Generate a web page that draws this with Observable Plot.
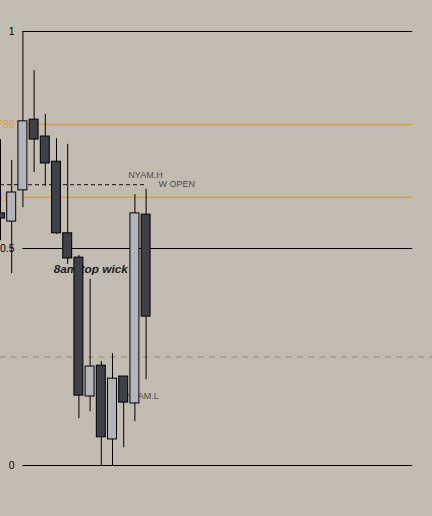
<!DOCTYPE html>
<html>
<head>
<meta charset="utf-8">
<script src="https://cdn.jsdelivr.net/npm/d3@7"></script>
<script src="https://cdn.jsdelivr.net/npm/@observablehq/plot@0.6"></script>
<style>
  html, body { margin: 0; padding: 0; background: #c3bcb2; }
  #chart svg { display: block; }
</style>
</head>
<body>
<div id="chart"></div>
<script>
// Candles (normalised to the fib range: low = 0, high = 1)
const candleIndex = [0, 1, 2, 3, 4, 5, 6, 7, 8, 9, 10, 11, 12, 13];
const opens  = [0.581, 0.562, 0.634, 0.797, 0.758, 0.700, 0.535, 0.479, 0.159, 0.230, 0.060, 0.205, 0.143, 0.578];
const highs  = [0.751, 0.703, 1.000, 0.910, 0.809, 0.753, 0.740, 0.484, 0.429, 0.240, 0.258, 0.205, 0.624, 0.636];
const lows   = [0.518, 0.442, 0.594, 0.675, 0.643, 0.532, 0.463, 0.108, 0.124, 0.000, 0.000, 0.041, 0.101, 0.198];
const closes = [0.569, 0.629, 0.793, 0.751, 0.696, 0.535, 0.477, 0.161, 0.228, 0.065, 0.200, 0.145, 0.581, 0.343];

// Fibonacci levels
const fibLevels = [1, 0.786, 0.618, 0.5, 0];
const fibLabels = ["1", "0.786", "0.618", "0.5", "0"];
const fibColors = ["#000000", "#dea03c", "#dea03c", "#000000", "#000000"];

// Other levels and annotations
const quarterLevel = 0.25;
const nyamHigh = 0.647;
const nyamLow = 0.159;
const wickNoteLevel = 0.452;
const annotations = ["NYAM.H", "W OPEN", "NYAM.L", "8am top wick"];

const candles = candleIndex.map((i, k) => ({
  i, open: opens[k], high: highs[k], low: lows[k], close: closes[k]
}));
const fibs = fibLevels.map((v, k) => ({ v, label: fibLabels[k], color: fibColors[k] }));

const W = 432, H = 516;
const pxPerCandle = 11.2;
const fibStart = 2, fibEnd = 36.8;
const font = "Liberation Sans, Arial, sans-serif";

const plot = Plot.plot({
  width: W,
  height: H,
  marginLeft: 0,
  marginRight: 0,
  marginTop: 31,
  marginBottom: 51,
  x: { domain: [0, W / pxPerCandle], axis: null },
  y: { domain: [0, 1], axis: null },
  style: { background: "#c3bcb2", fontFamily: font },
  marks: [
    // quarter level, grey dashed across the whole pane
    Plot.ruleY([quarterLevel], { stroke: "#8e8983", strokeDasharray: "6,5", strokeWidth: 1 }),
    // fib lines
    Plot.ruleY(fibs, { y: "v", x1: fibStart, x2: fibEnd, stroke: "color", strokeWidth: d => d.color === "#000000" ? 1.1 : 1.5 }),
    // fib labels on the left (partly behind the first candles, as in the source)
    Plot.text(fibs, { y: "v", x: 0, text: "label", fill: "color", textAnchor: "end", dx: 14, fontSize: 10.5 }),
    // NYAM.H dashed line
    Plot.ruleY([nyamHigh], { x1: 0, x2: 12.95, stroke: "#111", strokeDasharray: "4,3", strokeWidth: 1 }),
    Plot.text([annotations[0]], { x: 12.95, y: nyamHigh, text: d => d, fill: "#4a4a4e", fontSize: 9, dy: -10 }),
    Plot.text([annotations[1]], { x: 14.1, y: nyamHigh, text: d => d, fill: "#4a4a4e", fontSize: 9, textAnchor: "start", dy: -1 }),
    Plot.text([annotations[2]], { x: 11.2, y: nyamLow, text: d => d, fill: "#4a4a4e", fontSize: 9, textAnchor: "start", dy: 0 }),
    Plot.text([annotations[3]], { x: 4.75, y: wickNoteLevel, text: d => d, fill: "#1c1c20", fontSize: 11.8, fontWeight: "bold", fontStyle: "italic", textAnchor: "start" }),
    // wicks
    Plot.ruleX(candles, { x: "i", y1: "low", y2: "high", stroke: "#000", strokeWidth: 1 }),
    // bodies
    Plot.rect(candles, {
      x1: d => d.i - 0.4,
      x2: d => d.i + 0.4,
      y1: "open",
      y2: "close",
      fill: d => d.close >= d.open ? "#b4b5ba" : "#3e4047",
      stroke: "#000",
      strokeWidth: 1
    })
  ]
});

document.getElementById("chart").appendChild(plot);
</script>
</body>
</html>
